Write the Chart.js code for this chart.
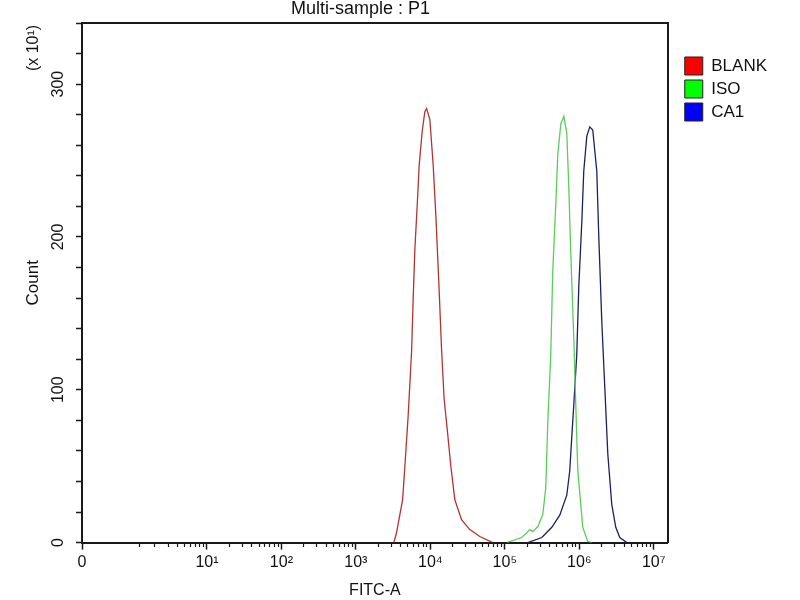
<!DOCTYPE html>
<html>
<head>
<meta charset="utf-8">
<script src="https://cdn.jsdelivr.net/npm/chart.js@4.4.1/dist/chart.umd.min.js"></script>
<style>
  html, body { margin: 0; padding: 0; background: #fff; }
  #wrap { width: 800px; height: 600px; }
</style>
</head>
<body>
<div id="wrap"><canvas id="c" width="800" height="600"></canvas></div>
<script>
// ---- Data (x = log10 of FITC-A intensity, y = count in units of 10) ----
const seriesNames = ['BLANK', 'ISO', 'CA1'];

const blankX = [3.510, 3.546, 3.627, 3.658, 3.702, 3.748, 3.769, 3.792, 3.828, 3.850, 3.890, 3.926, 3.949, 3.993, 4.038, 4.074, 4.114, 4.150, 4.185, 4.231, 4.275, 4.329, 4.419, 4.530, 4.664, 4.839];
const blankY = [0, 6.6, 28, 50, 83, 125, 159, 192, 225, 247, 269, 282, 284, 277, 247, 214, 170, 127, 94, 72, 50, 28, 15, 8.5, 4, 0];

const isoX = [5.027, 5.228, 5.336, 5.376, 5.443, 5.510, 5.550, 5.577, 5.617, 5.644, 5.685, 5.711, 5.752, 5.792, 5.832, 5.859, 5.886, 5.926, 5.953, 5.980, 6.020, 6.047, 6.114, 6.168];
const isoY = [0, 3.3, 8.5, 7.2, 10.5, 18.4, 36, 79, 123, 178, 222, 254, 274, 279, 268, 233, 189, 134, 90, 47, 25, 10, 0.7, 0];

const ca1X = [5.309, 5.497, 5.631, 5.738, 5.832, 5.872, 5.899, 5.926, 5.966, 5.993, 6.034, 6.060, 6.101, 6.141, 6.181, 6.235, 6.262, 6.302, 6.342, 6.383, 6.436, 6.490, 6.544, 6.638];
const ca1Y = [0, 3.3, 10, 18, 31, 47, 69, 90, 123, 167, 210, 243, 266, 272, 270, 243, 200, 145, 102, 58, 25, 10, 3.3, 0];

// ---- Axis tick definitions ----
const xMajorValues = [-0.678, 1, 2, 3, 4, 5, 6, 7];
const xMajorLabels = ['0', '10\u00B9', '10\u00B2', '10\u00B3', '10\u2074', '10\u2075', '10\u2076', '10\u2077'];
const xMinorMultipliers = [2, 3, 4, 5, 6, 7, 8, 9];
const xMinorDecades = [0, 1, 2, 3, 4, 5, 6];
const xMinorExtra = [0.1];
const yLabelValues = [0, 100, 200, 300];

const lineColors = ['rgb(180,50,50)', 'rgb(90,205,90)', 'rgb(30,30,100)'];
const legendFills = ['#ff0000', '#00ff00', '#0000ff'];

const X_MIN = -0.678, X_MAX = 7.188;
const Y_MIN = 0, Y_MAX = 340;

const xMinorValues = xMinorExtra.slice();
xMinorDecades.forEach(d => xMinorMultipliers.forEach(m => xMinorValues.push(d + Math.log10(m))));

function pts(xs, ys) { return xs.map((x, i) => ({ x: x, y: ys[i] })); }

Chart.defaults.font.family = "'Liberation Sans', Arial, sans-serif";
Chart.defaults.color = '#111';

const AXIS_COLOR = '#1a1a1a';

const extras = {
  id: 'extras',
  afterLayout(chart) {
    const t = chart.titleBlock;
    if (t) { t.left = 0; t.right = 721; }
  },
  afterDraw(chart) {
    const ctx = chart.ctx;
    ctx.save();
    ctx.translate(34, 48);
    ctx.rotate(-Math.PI / 2);
    ctx.font = "16px 'Liberation Sans', Arial, sans-serif";
    ctx.fillStyle = '#111';
    ctx.textAlign = 'center';
    ctx.textBaseline = 'middle';
    ctx.fillText('(x 10\u00B9)', 0, 0);
    ctx.restore();
  }
};

new Chart(document.getElementById('c'), {
  type: 'line',
  data: {
    datasets: [
      { label: seriesNames[0], data: pts(blankX, blankY), borderColor: lineColors[0], backgroundColor: legendFills[0] },
      { label: seriesNames[1], data: pts(isoX, isoY), borderColor: lineColors[1], backgroundColor: legendFills[1] },
      { label: seriesNames[2], data: pts(ca1X, ca1Y), borderColor: lineColors[2], backgroundColor: legendFills[2] }
    ].map(d => Object.assign(d, { borderWidth: 1.3, pointRadius: 0, tension: 0, fill: false, xAxisID: 'x', yAxisID: 'y' }))
  },
  options: {
    responsive: false,
    animation: false,
    layout: { padding: { left: 0, top: 0, right: 23, bottom: 0 } },
    plugins: {
      tooltip: { enabled: false },
      title: {
        display: true,
        text: 'Multi-sample : P1',
        color: '#111',
        font: { size: 18, weight: 'normal', lineHeight: 1.0 },
        padding: { top: 0, bottom: 5 }
      },
      legend: {
        display: true,
        position: 'right',
        align: 'start',
        fullSize: false,
        title: { display: true, text: '', font: { size: 10, lineHeight: 1.2 }, padding: { top: 0, bottom: 17 } },
        labels: {
          boxWidth: 18,
          boxHeight: 18,
          padding: 5,
          color: '#111',
          font: { size: 17 },
          generateLabels(chart) {
            const items = Chart.defaults.plugins.legend.labels.generateLabels(chart);
            return items.map((it, i) => Object.assign(it, { fillStyle: legendFills[i], strokeStyle: '#222', lineWidth: 1 }));
          }
        }
      }
    },
    scales: {
      x: {
        type: 'linear',
        position: 'bottom',
        min: X_MIN, max: X_MAX,
        afterBuildTicks(scale) { scale.ticks = xMajorValues.map(v => ({ value: v })); },
        ticks: {
          autoSkip: false, maxRotation: 0, minRotation: 0, padding: 3,
          font: { size: 16 }, color: '#111',
          callback(v, i) { return xMajorLabels[i]; }
        },
        grid: { drawOnChartArea: false, drawTicks: true, tickLength: 7, tickColor: AXIS_COLOR, tickWidth: 1.5 },
        border: { display: true, color: AXIS_COLOR, width: 2 },
        title: { display: true, text: 'FITC-A', color: '#111', font: { size: 16 }, padding: { top: 6, bottom: 0 } }
      },
      xm: {
        type: 'linear',
        axis: 'x',
        position: { y: 0 },
        min: X_MIN, max: X_MAX,
        afterBuildTicks(scale) { scale.ticks = xMinorValues.map(v => ({ value: v })); },
        ticks: { display: false, autoSkip: false },
        grid: { drawOnChartArea: false, drawTicks: true, tickLength: 4, tickColor: AXIS_COLOR, tickWidth: 1.2 },
        border: { display: false }
      },
      xt: {
        type: 'linear',
        axis: 'x',
        position: 'top',
        min: X_MIN, max: X_MAX,
        ticks: { display: false },
        grid: { drawOnChartArea: false, drawTicks: false },
        border: { display: true, color: AXIS_COLOR, width: 2 }
      },
      y: {
        type: 'linear',
        position: 'left',
        min: Y_MIN, max: Y_MAX,
        afterFit(scale) { scale.width = 82; },
        ticks: {
          stepSize: 20, autoSkip: false,
          minRotation: 90, maxRotation: 90,
          crossAlign: 'center', padding: 4,
          font: { size: 16 }, color: '#111',
          callback(v) { return yLabelValues.includes(v) ? String(v) : ''; }
        },
        grid: { drawOnChartArea: false, drawTicks: true, tickLength: 6, tickColor: AXIS_COLOR, tickWidth: 1.5 },
        border: { display: true, color: AXIS_COLOR, width: 2 },
        title: { display: true, text: 'Count', color: '#111', font: { size: 17 }, padding: { top: 23, bottom: 0 } }
      },
      yr: {
        type: 'linear',
        axis: 'y',
        position: 'right',
        min: Y_MIN, max: Y_MAX,
        afterFit(scale) { scale.width = 12; },
        ticks: { display: false },
        grid: { drawOnChartArea: false, drawTicks: false },
        border: { display: true, color: AXIS_COLOR, width: 2 }
      }
    }
  },
  plugins: [extras]
});
</script>
</body>
</html>
